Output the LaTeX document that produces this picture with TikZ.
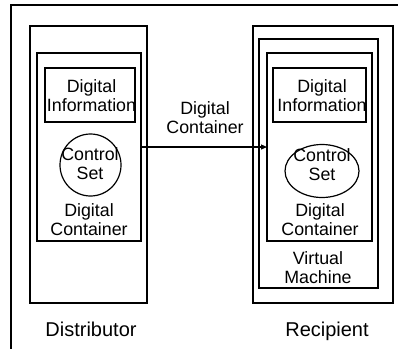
\documentclass[tikz,border=0pt]{standalone}
\usepackage{fontspec}
\setmainfont{Liberation Sans}
\usetikzlibrary{arrows.meta,shapes.geometric}
\begin{document}
\begin{tikzpicture}[x=1pt,y=-1pt,
  box/.style={draw, line width=1.2pt, rectangle, inner sep=0pt, outer sep=0pt},
  oval/.style={draw, ellipse, line width=1.2pt, inner sep=0pt, outer sep=0pt},
  lbl/.style={align=center, inner sep=0pt, font=\fontsize{17.8}{18.8}\selectfont},
  side/.style={inner sep=0pt, anchor=base, font=\fontsize{20}{22}\selectfont},
  flow/.style={line width=1.2pt, -{Triangle[length=6pt,width=5pt]}}
]
\useasboundingbox (0,0) rectangle (398,348);

% surrounding frame
\coordinate (fbl) at (11,349);
\coordinate (ftl) at (11,5);
\coordinate (ftr) at (399,5);
\draw[line width=1.2pt] (fbl) -- (ftl) -- (ftr);

% distributor side
\node[box, minimum width=117pt, minimum height=277pt] (dist) at (88.5,164.5) {};
\node[box, minimum width=104pt, minimum height=188pt] (dcont) at (89,147) {};
\node[box, minimum width=90pt, minimum height=54pt] (dinfo) at (90,95) {};
\node[lbl] (dinfot) at (91.5,96) {Digital\\Information};
\node[oval, minimum width=61pt, minimum height=62pt] (dcs) at (90.5,165) {};
\node[lbl] (dcst) at (90,164) {Control\\Set};
\node[lbl] (dcontt) at (89,220) {Digital\\Container};
\node[side] (distt) at (91,336) {Distributor};

% recipient side
\node[box, minimum width=140pt, minimum height=277pt] (rec) at (323,164.5) {};
\node[box, minimum width=119pt, minimum height=249pt] (vm) at (318.5,163.5) {};
\node[box, minimum width=105pt, minimum height=188pt] (rcont) at (319.5,147) {};
\node[box, minimum width=93pt, minimum height=54pt] (rinfo) at (319.5,95) {};
\node[lbl] (rinfot) at (322,96) {Digital\\Information};
\node[oval, minimum width=74pt, minimum height=53pt] (rcs) at (322,171) {};
\node[lbl] (rcst) at (322,164.5) {Control\\Set};
\node[lbl] (rcontt) at (320,220) {Digital\\Container};
\node[lbl] (vmt) at (318,268) {Virtual\\Machine};
\node[side] (rect) at (327,336) {Recipient};

% transfer of the container
\draw[flow] (dcont.east) -- (rcont.west);
\node[lbl] (flowt) at (205,118) {Digital\\Container};
\end{tikzpicture}
\end{document}
